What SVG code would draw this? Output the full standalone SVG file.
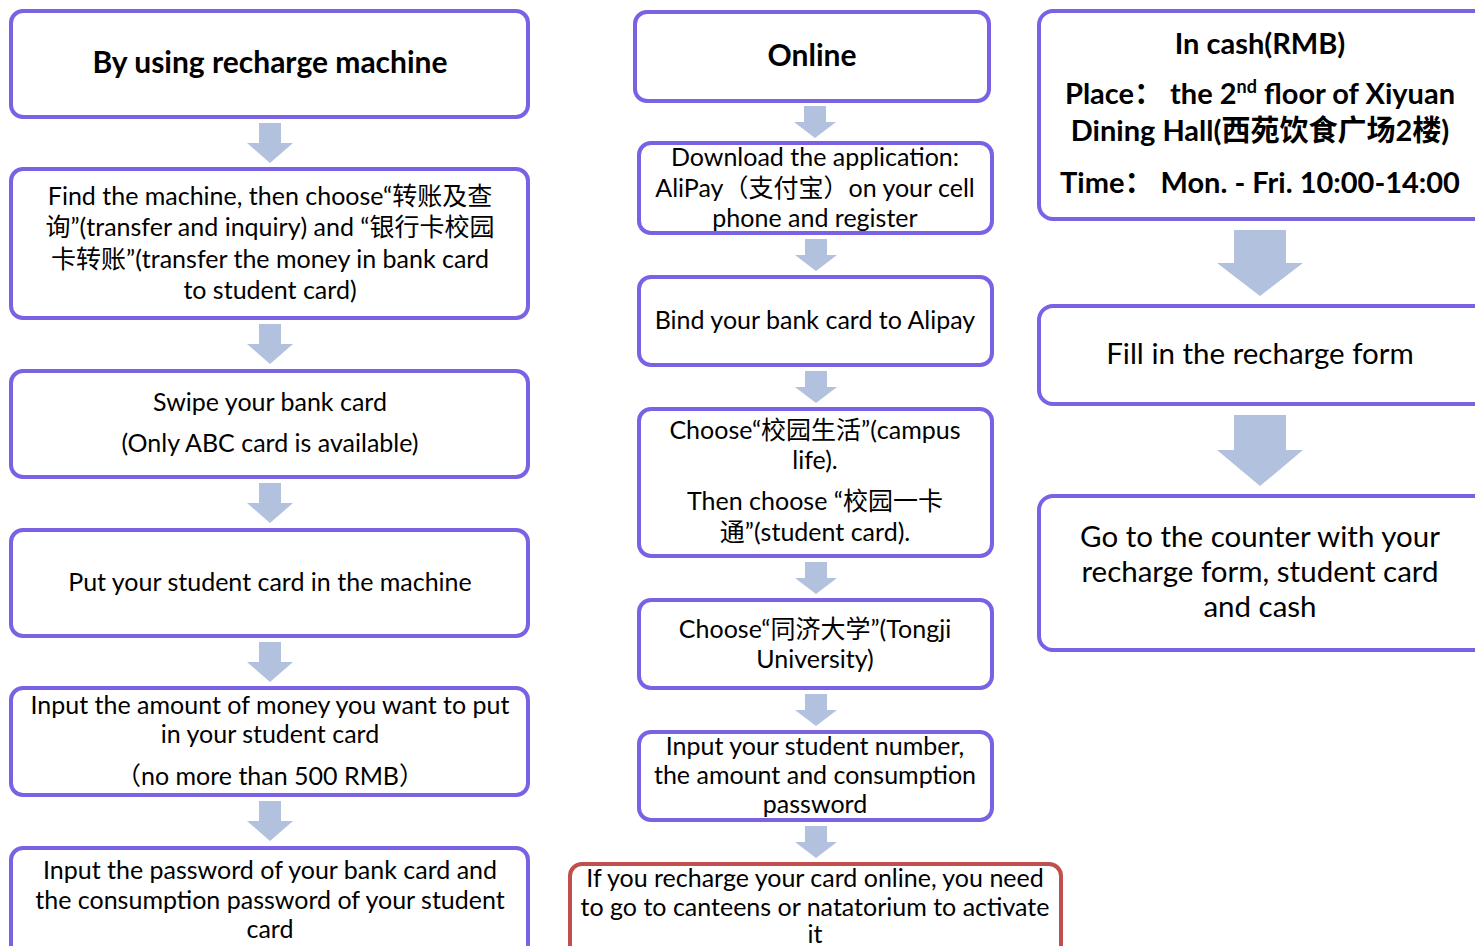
<svg xmlns="http://www.w3.org/2000/svg" width="1475" height="946" viewBox="0 0 1475 946">
<style>
.box{fill:#fff;stroke:#7B61E4;stroke-width:4}
.red{fill:#fff;stroke:#C0504D;stroke-width:4}
.arr{fill:#B1C1DE}
text{font-family:"Lato","Noto Sans CJK SC",sans-serif;fill:#000;text-anchor:middle}
.t{font-size:25px}
.tl{font-size:29.5px}
.b{font-size:30px;font-weight:bold}
.bc{font-size:29px;font-weight:bold}
</style>
<rect width="1475" height="946" fill="#fff"/>
<g id="connectors">
<path class="arr" d="M259,123h22v20h12l-23,20l-23,-20h12z"/>
<path class="arr" d="M259,324h22v20h12l-23,20l-23,-20h12z"/>
<path class="arr" d="M259,483h22v20h12l-23,20l-23,-20h12z"/>
<path class="arr" d="M259,642h22v20h12l-23,20l-23,-20h12z"/>
<path class="arr" d="M259,801h22v20h12l-23,20l-23,-20h12z"/>
<path class="arr" d="M804,106h22v16h10l-21,16l-21,-16h10z"/>
<path class="arr" d="M805,239h22v16h10l-21,16l-21,-16h10z"/>
<path class="arr" d="M805,371h22v16h10l-21,16l-21,-16h10z"/>
<path class="arr" d="M805,562h22v16h10l-21,16l-21,-16h10z"/>
<path class="arr" d="M805,694h22v16h10l-21,16l-21,-16h10z"/>
<path class="arr" d="M805,826h22v16h10l-21,16l-21,-16h10z"/>
<path class="arr" d="M1234,230h52v33h17l-43,33l-43,-33h17z"/>
<path class="arr" d="M1234,415h52v35h17l-43,36l-43,-36h17z"/>
</g>
<g id="n1"><rect class="box" x="11" y="11" width="517" height="106" rx="12"/><text class="b" x="270" y="73">By using recharge machine</text></g>
<g id="n2"><rect class="box" x="11" y="169" width="517" height="149" rx="12"/>
<text class="t" x="270" y="205">Find the machine, then choose“转账及查</text>
<text class="t" x="270" y="236">询”(transfer and inquiry) and “银行卡校园</text>
<text class="t" x="270" y="268">卡转账”(transfer the money in bank card</text>
<text class="t" x="270" y="299">to student card)</text></g>
<g id="n3"><rect class="box" x="11" y="371" width="517" height="106" rx="12"/>
<text class="t" x="270" y="411">Swipe your bank card</text>
<text class="t" x="270" y="452">(Only ABC card is available)</text></g>
<g id="n4"><rect class="box" x="11" y="530" width="517" height="106" rx="12"/>
<text class="t" x="270" y="591">Put your student card in the machine</text></g>
<g id="n5"><rect class="box" x="11" y="688" width="517" height="107" rx="12"/>
<text class="t" x="270" y="714">Input the amount of money you want to put</text>
<text class="t" x="270" y="743">in your student card</text>
<text class="t" x="270" y="785">（no more than 500 RMB）</text></g>
<g id="n6"><rect class="box" x="11" y="848" width="517" height="120" rx="12"/>
<text class="t" x="270" y="879">Input the password of your bank card and</text>
<text class="t" x="270" y="909">the consumption password of your student</text>
<text class="t" x="270" y="938">card</text></g>
<g id="m1"><rect class="box" x="635" y="12" width="354" height="89" rx="12"/><text class="b" x="812" y="66">Online</text></g>
<g id="m2"><rect class="box" x="639" y="143" width="353" height="90" rx="12"/>
<text class="t" x="815" y="166">Download the application:</text>
<text class="t" x="815" y="197">AliPay（支付宝）on your cell</text>
<text class="t" x="815" y="227">phone and register</text></g>
<g id="m3"><rect class="box" x="639" y="277" width="353" height="88" rx="12"/>
<text class="t" x="815" y="329">Bind your bank card to Alipay</text></g>
<g id="m4"><rect class="box" x="639" y="409" width="353" height="147" rx="12"/>
<text class="t" x="815" y="439">Choose“校园生活”(campus</text>
<text class="t" x="815" y="469">life).</text>
<text class="t" x="815" y="510">Then choose “校园一卡</text>
<text class="t" x="815" y="541">通”(student card).</text></g>
<g id="m5"><rect class="box" x="639" y="600" width="353" height="88" rx="12"/>
<text class="t" x="815" y="638">Choose“同济大学”(Tongji</text>
<text class="t" x="815" y="668">University)</text></g>
<g id="m6"><rect class="box" x="639" y="732" width="353" height="88" rx="12"/>
<text class="t" x="815" y="755">Input your student number,</text>
<text class="t" x="815" y="784">the amount and consumption</text>
<text class="t" x="815" y="813">password</text></g>
<g id="m7"><rect class="red" x="570" y="864" width="491" height="110" rx="12"/>
<text class="t" x="815" y="887">If you recharge your card online, you need</text>
<text class="t" x="815" y="916">to go to canteens or natatorium to activate</text>
<text class="t" x="815" y="943">it</text></g>
<g id="r1"><rect class="box" x="1039" y="11" width="460" height="208" rx="14"/>
<text class="bc" x="1260" y="54">In cash(RMB)</text>
<text class="bc" x="1260" y="104">Place： the 2<tspan font-size="18" dy="-11">nd</tspan><tspan dy="11"> floor of Xiyuan</tspan></text>
<text class="bc" x="1260" y="141">Dining Hall(西苑饮食广场2楼)</text>
<text class="bc" x="1260" y="193">Time： Mon. - Fri. 10:00-14:00</text></g>
<g id="r2"><rect class="box" x="1039" y="306" width="460" height="98" rx="14"/>
<text class="tl" x="1260" y="364">Fill in the recharge form</text></g>
<g id="r3"><rect class="box" x="1039" y="496" width="460" height="154" rx="14"/>
<text class="tl" x="1260" y="547">Go to the counter with your</text>
<text class="tl" x="1260" y="582">recharge form, student card</text>
<text class="tl" x="1260" y="617">and cash</text></g>
</svg>
